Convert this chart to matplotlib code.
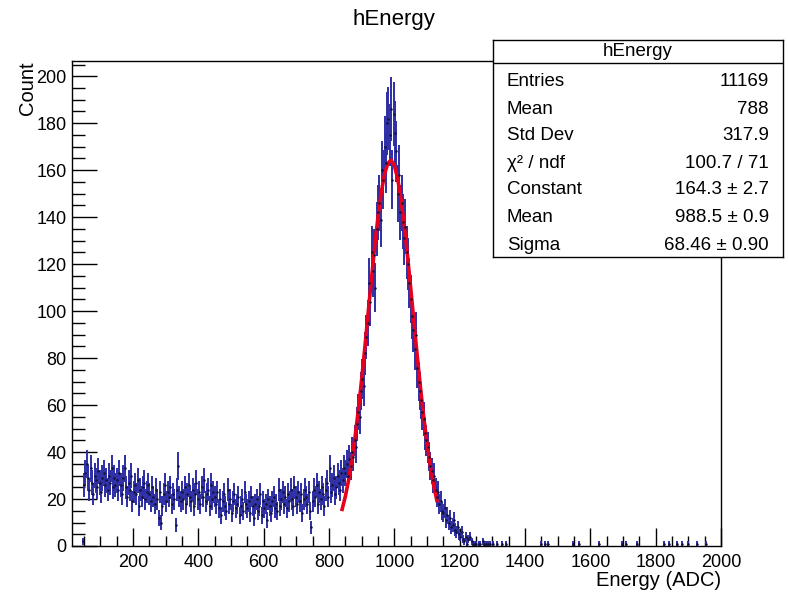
import numpy as np
import matplotlib
matplotlib.use("Agg")
import matplotlib.pyplot as plt
from matplotlib.ticker import MultipleLocator

plt.rcParams["font.family"] = ["Liberation Sans", "DejaVu Sans"]

# ---------------- histogram contents (bin width 4 ADC) ----------------
bin_width = 4.
first_center = 46.
counts = [
    2,
    # 50 - 146
    26, 31, 35, 29, 24, 33, 27, 22, 30, 28, 25, 32, 27, 23, 29, 31, 26, 28, 24, 30, 27, 33, 25, 29, 26,
    # 150 - 246
    28, 24, 31, 26, 22, 29, 33, 25, 21, 27, 24, 30, 19, 23, 26, 22, 28, 17, 24, 21, 25, 27, 20, 23, 26,
    # 250 - 346
    22, 19, 25, 21, 18, 24, 20, 12, 23, 10, 17, 22, 26, 19, 23, 21, 25, 18, 22, 20, 9, 24, 34, 21, 19,
    # 350 - 446
    23, 20, 25, 18, 22, 26, 21, 19, 24, 17, 22, 27, 20, 23, 18, 25, 21, 28, 19, 22, 24, 17, 26, 20, 23,
    # 450 - 546
    21, 18, 23, 16, 20, 13, 19, 22, 17, 15, 24, 18, 20, 14, 19, 22, 16, 18, 21, 13, 17, 20, 15, 23, 18,
    # 550 - 646
    16, 19, 14, 21, 17, 12, 18, 20, 15, 17, 22, 13, 19, 16, 18, 11, 20, 17, 14, 19, 21, 16, 18, 15, 24,
    # 650 - 746
    17, 20, 23, 18, 21, 16, 22, 19, 24, 20, 17, 25, 21, 18, 23, 19, 22, 14, 20, 24, 21, 18, 23, 15, 8,
    # 750 - 846
    19, 24, 21, 26, 18, 23, 20, 25, 22, 17, 24, 27, 21, 33, 23, 26, 29, 22, 25, 30, 27, 24, 31, 28, 33,
    # 850 - 946
    31, 35, 30, 37, 34, 40, 38, 45, 42, 52, 57, 55, 66, 71, 68, 82, 89, 95, 112, 104, 125, 117, 124, 110, 135,
    # 950 - 1046
    142, 146, 139, 160, 156, 170, 163, 180, 182, 175, 186, 156, 184, 176, 168, 150, 158, 142, 146, 138, 131, 136, 125, 120, 112,
    # 1050 - 1146
    105, 98, 92, 84, 90, 76, 70, 66, 62, 57, 54, 48, 45, 42, 38, 34, 32, 28, 30, 24, 21, 23, 18, 19, 15,
    # 1150 - 1246
    14, 16, 11, 13, 10, 12, 8, 9, 11, 7, 6, 8, 5, 4, 6, 3, 2, 4, 1, 3, 4, 0, 2, 1, 1,
    # 1250 - 1346
    1, 0, 1, 1, 0, 2, 1, 0, 1, 1, 0, 1, 0, 1, 0, 0, 1, 0, 0, 0, 1, 0, 0, 1, 0,
]

# isolated single entries in the high-energy tail
tail_centers = [1450, 1462, 1470, 1546, 1566, 1626, 1698, 1710, 1742,
                1826, 1842, 1866, 1882, 1898, 1926, 1954]
tail_counts = [1, 1, 1, 1, 1, 1, 1, 1, 1,
               1, 1, 1, 1, 1, 1, 1]

# gaussian fit curve as drawn (energy, count)
fit_x = [840, 850, 860, 870, 880, 890, 900, 910, 920, 930, 940, 950, 960, 970, 980, 990,
         1000, 1010, 1020, 1030, 1040, 1050, 1060, 1070, 1080, 1090, 1100, 1110, 1120, 1130]
fit_y = [15.6, 21.2, 28.2, 36.7, 46.8, 58.4, 71.2, 85.1, 99.6, 114.0, 127.8, 140.3, 150.7, 158.4, 163.0, 164.3,
         162.0, 156.4, 147.8, 136.7, 123.8, 109.8, 95.2, 80.9, 67.3, 54.7, 43.6, 34.0, 26.0, 19.4]

stats_labels = ["Entries", "Mean", "Std Dev", "\u03c7\u00b2 / ndf", "Constant", "Mean", "Sigma"]
stats_values = ["11169", "788", "317.9", "100.7 / 71", "164.3 \u00b1 2.7", "988.5 \u00b1 0.9", "68.46 \u00b1 0.90"]

# ---------------- assemble ----------------
centers = np.concatenate([first_center + bin_width * np.arange(len(counts)), tail_centers])
values = np.concatenate([counts, tail_counts]).astype(float)
mask = values > 0
centers = centers[mask]
values = values[mask]

fig = plt.figure(figsize=(7.88, 5.92), dpi=100)
ax = fig.add_axes([72 / 788, 1 - 546 / 592, (721 - 72) / 788, (546 - 61) / 592])

ax.errorbar(centers, values, yerr=np.sqrt(values), xerr=bin_width / 2,
            fmt=".", color="#2e2ea6", ecolor="#2e2ea6", elinewidth=1.4,
            markersize=1.6, markerfacecolor="#111133", markeredgecolor="#111133",
            capsize=0)
ax.plot(fit_x, fit_y, color="#e8001c", lw=2.6)

ax.set_xlim(13, 2000)
ax.set_ylim(0, 206.5)

ax.xaxis.set_major_locator(MultipleLocator(200))
ax.xaxis.set_minor_locator(MultipleLocator(50))
ax.yaxis.set_major_locator(MultipleLocator(20))
ax.yaxis.set_minor_locator(MultipleLocator(5))
ax.tick_params(axis="both", which="both", direction="in", top=False, right=False,
               labelsize=13, width=1.0)
ax.tick_params(axis="x", which="major", length=13, pad=6)
ax.tick_params(axis="x", which="minor", length=7)
ax.tick_params(axis="y", which="major", length=18, pad=4)
ax.tick_params(axis="y", which="minor", length=9)
for sp in ax.spines.values():
    sp.set_linewidth(1.0)

ax.set_xlabel("Energy (ADC)", fontsize=14.5, loc="right", labelpad=0)
ax.set_ylabel("Count", fontsize=14.5, loc="top", labelpad=-0.5)

fig.text(0.5, 1 - 20 / 592, "hEnergy", ha="center", va="center", fontsize=16)

# ---------------- stats box ----------------
bx0, bx1, by0, by1 = 493, 783, 40, 257
box = fig.add_axes([bx0 / 788, 1 - by1 / 592, (bx1 - bx0) / 788, (by1 - by0) / 592])
box.set_xticks([])
box.set_yticks([])
box.set_facecolor("white")
box.set_xlim(bx0, bx1)
box.set_ylim(by1, by0)
for sp in box.spines.values():
    sp.set_linewidth(1.0)
box.axhline(63, color="black", lw=1.0)
box.text((bx0 + bx1) / 2, 51.5, "hEnergy", ha="center", va="center", fontsize=13.5)
row_y = [81, 109, 136, 163, 190, 218, 245]
for lab, val, yy in zip(stats_labels, stats_values, row_y):
    box.text(507, yy, lab, ha="left", va="center", fontsize=13.5)
    box.text(769, yy, val, ha="right", va="center", fontsize=13.5)

fig.savefig("out.png", dpi=100)
